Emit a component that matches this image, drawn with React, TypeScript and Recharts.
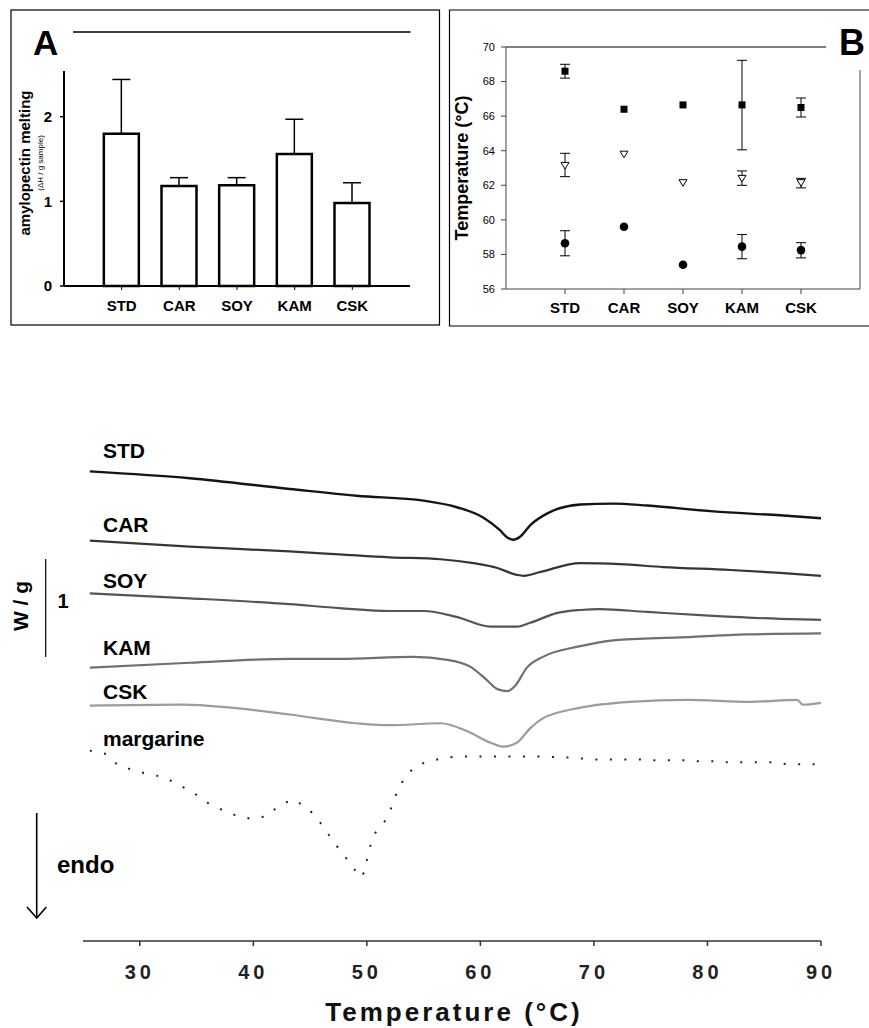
import React from 'react';
import { BarChart, Bar, XAxis, YAxis, ErrorBar, ScatterChart, Scatter, LineChart, Line } from 'recharts';

const FONT = '"Liberation Sans", Arial, Helvetica, sans-serif';

// ---------- shared categories ----------
const categories = ['STD', 'CAR', 'SOY', 'KAM', 'CSK'];
const categoryPositions = [1, 2, 3, 4, 5];

// ---------- Panel A : amylopectin melting (ΔH / g sample) ----------
const amylopectinMelting = [1.8, 1.18, 1.19, 1.56, 0.98];
const amylopectinErrorUp = [0.64, 0.1, 0.09, 0.41, 0.24];
const panelATicks = [0, 1, 2];

// ---------- Panel B : transition temperatures (°C) ----------
const conclusionTemp = [68.6, 66.4, 66.65, 66.65, 66.5];
const conclusionErr: ([number, number] | null)[] = [[0.4, 0.4], null, null, [2.6, 2.58], [0.55, 0.55]];
const peakTemp = [63.15, 63.8, 62.15, 62.4, 62.15];
const peakErr: ([number, number] | null)[] = [[0.65, 0.7], null, null, [0.4, 0.43], [0.3, 0.25]];
const onsetTemp = [58.65, 59.6, 57.4, 58.45, 58.25];
const onsetErr: ([number, number] | null)[] = [[0.73, 0.72], null, null, [0.7, 0.7], [0.45, 0.43]];
const panelBTicks = [56, 58, 60, 62, 64, 66, 68, 70];

// ---------- DSC thermograms : [temperature °C, heat flow W/g (offset)] ----------
const tempTicks = [30, 40, 50, 60, 70, 80, 90];
const stdCurve: [number, number][] = [
  [25.6, 4.81], [34.4, 4.74], [43.2, 4.63], [49.1, 4.56], [55.0, 4.51], [58.0, 4.44], [60.2, 4.34],
  [61.7, 4.21], [62.4, 4.13], [62.9, 4.11], [63.5, 4.14], [64.4, 4.26], [65.9, 4.38], [68.8, 4.47],
  [71.7, 4.48], [74.7, 4.46], [80.5, 4.4], [86.4, 4.36], [90.0, 4.33],
];
const carCurve: [number, number][] = [
  [25.6, 4.1], [34.4, 4.04], [43.2, 3.99], [47.6, 3.96], [52.0, 3.93], [56.5, 3.91], [59.4, 3.87],
  [61.5, 3.82], [63.2, 3.75], [63.8, 3.74], [65.3, 3.78], [68.8, 3.87], [72.3, 3.86], [76.1, 3.83],
  [82.0, 3.8], [86.4, 3.77], [90.0, 3.74],
];
const soyCurve: [number, number][] = [
  [25.6, 3.56], [34.4, 3.51], [43.2, 3.45], [47.6, 3.41], [52.0, 3.38], [55.0, 3.38], [57.9, 3.32],
  [60.9, 3.22], [63.2, 3.22], [64.4, 3.26], [66.8, 3.36], [68.8, 3.39], [70.5, 3.4], [74.7, 3.37],
  [80.5, 3.33], [86.4, 3.3], [90.0, 3.29],
];
const kamCurve: [number, number][] = [
  [25.6, 2.8], [34.4, 2.85], [43.2, 2.89], [47.6, 2.89], [54.1, 2.91], [57.1, 2.88], [59.1, 2.81],
  [60.6, 2.67], [61.5, 2.58], [62.4, 2.56], [63.1, 2.62], [64.1, 2.8], [65.5, 2.91], [68.8, 3.02],
  [71.7, 3.08], [77.6, 3.11], [83.5, 3.14], [90.0, 3.15],
];
const cskCurve: [number, number][] = [
  [25.6, 2.41], [33.8, 2.42], [38.0, 2.39], [43.2, 2.32], [49.1, 2.23], [52.0, 2.21], [56.5, 2.23],
  [58.8, 2.15], [60.9, 2.03], [62.0, 1.99], [63.2, 2.03], [64.4, 2.18], [65.5, 2.28], [68.8, 2.39],
  [73.2, 2.45], [78.2, 2.47], [83.8, 2.45], [87.9, 2.47], [88.4, 2.42], [90.0, 2.44],
];
const margarineCurve: [number, number][] = [
  [25.6, 1.95], [26.9, 1.92], [28.1, 1.8], [29.4, 1.75], [30.7, 1.71], [32.1, 1.68], [33.4, 1.6],
  [34.6, 1.53], [35.9, 1.42], [37.3, 1.34], [38.6, 1.28], [39.9, 1.25], [41.2, 1.28], [42.3, 1.39],
  [43.5, 1.45], [44.7, 1.37], [45.6, 1.26], [46.4, 1.13], [47.1, 1.01], [47.9, 0.89], [48.7, 0.77],
  [49.4, 0.65], [49.9, 0.72], [50.0, 0.83], [50.3, 0.97], [50.6, 1.09], [51.4, 1.19], [52.0, 1.31],
  [52.3, 1.43], [52.8, 1.56], [53.4, 1.69], [54.4, 1.8], [55.8, 1.85], [57.1, 1.88], [58.4, 1.89],
  [64.9, 1.89], [67.6, 1.88], [70.1, 1.86], [74.1, 1.86], [75.3, 1.85], [78.0, 1.85], [79.3, 1.84],
  [80.5, 1.84], [81.9, 1.83], [85.8, 1.83], [87.1, 1.81], [90.0, 1.81],
];

// ---------- derived tables ----------
const barData = categories.map((c, i) => ({
  x: categoryPositions[i],
  name: c,
  v: amylopectinMelting[i],
  err: [0, amylopectinErrorUp[i]],
}));
const makePoints = (vals: number[], errs: ([number, number] | null)[]) =>
  categories.map((c, i) => ({ x: categoryPositions[i], name: c, y: vals[i], err: errs[i] }));
const conclusionData = makePoints(conclusionTemp, conclusionErr);
const peakData = makePoints(peakTemp, peakErr);
const onsetData = makePoints(onsetTemp, onsetErr);
const toXY = (arr: [number, number][]) => arr.map(([t, v]) => ({ t, v }));

const catFormatter = (v: number) => categories[v - 1] ?? '';

const SquareShape = (p: any) => <rect x={p.cx - 3.5} y={p.cy - 3.5} width={7} height={7} fill="#000" />;
const CircleShape = (p: any) => <circle cx={p.cx} cy={p.cy} r={4.3} fill="#000" />;
const TriangleDownShape = (p: any) => (
  <path
    d={`M${p.cx - 4},${p.cy - 3} L${p.cx + 4},${p.cy - 3} L${p.cx},${p.cy + 3.6} Z`}
    fill="#fff"
    stroke="#000"
    strokeWidth={1}
  />
);

const boldTick = { fontSize: 15, fontWeight: 'bold', fill: '#000', fontFamily: FONT };

export default function App() {
  return (
    <div style={{ position: 'absolute', left: 0, top: 0, width: 869, height: 1028, background: '#fff', fontFamily: FONT }}>
      {/* Panel A */}
      <div style={{ position: 'absolute', left: 0, top: 0 }}>
        <BarChart width={445} height={330} data={barData} margin={{ top: 71, right: 35, bottom: 14, left: 4 }}>
          <XAxis
            type="number"
            dataKey="x"
            domain={[0, 6]}
            ticks={categoryPositions}
            interval={0}
            tickFormatter={catFormatter}
            height={30}
            axisLine={{ stroke: '#000', strokeWidth: 2 }}
            tickLine={{ stroke: '#000', strokeWidth: 1 }}
            tickSize={4}
            tickMargin={10}
            tick={boldTick}
          />
          <YAxis
            type="number"
            domain={[0, 2.54]}
            ticks={panelATicks}
            interval={0}
            width={60}
            axisLine={{ stroke: '#000', strokeWidth: 2 }}
            tickLine={{ stroke: '#000', strokeWidth: 1.5 }}
            tickSize={4}
            tickMargin={8}
            tick={boldTick}
          />
          <Bar dataKey="v" barSize={35} fill="#fff" stroke="#000" strokeWidth={2.5} isAnimationActive={false}>
            <ErrorBar dataKey="err" direction="y" width={9} stroke="#000" strokeWidth={1.5} isAnimationActive={false} />
          </Bar>
        </BarChart>
      </div>

      {/* Panel B */}
      <div style={{ position: 'absolute', left: 445, top: 0 }}>
        <ScatterChart width={424} height={330} margin={{ top: 47, right: 9, bottom: 11, left: 1 }}>
          <XAxis
            type="number"
            dataKey="x"
            domain={[0, 6]}
            ticks={categoryPositions}
            interval={0}
            tickFormatter={catFormatter}
            height={30}
            axisLine={{ stroke: '#444', strokeWidth: 1 }}
            tickLine={{ stroke: '#444', strokeWidth: 1 }}
            tickSize={5}
            tickMargin={8}
            tick={boldTick}
          />
          <YAxis
            type="number"
            dataKey="y"
            domain={[56, 70]}
            ticks={panelBTicks}
            interval={0}
            width={60}
            axisLine={{ stroke: '#444', strokeWidth: 1 }}
            tickLine={{ stroke: '#444', strokeWidth: 1 }}
            tickSize={5}
            tickMargin={6}
            tick={{ fontSize: 11, fill: '#000', fontFamily: FONT }}
          />
          <Scatter data={conclusionData} shape={SquareShape} isAnimationActive={false}>
            <ErrorBar dataKey="err" direction="y" width={5} stroke="#000" strokeWidth={1} isAnimationActive={false} />
          </Scatter>
          <Scatter data={peakData} shape={TriangleDownShape} isAnimationActive={false}>
            <ErrorBar dataKey="err" direction="y" width={5} stroke="#000" strokeWidth={1} isAnimationActive={false} />
          </Scatter>
          <Scatter data={onsetData} shape={CircleShape} isAnimationActive={false}>
            <ErrorBar dataKey="err" direction="y" width={5} stroke="#000" strokeWidth={1} isAnimationActive={false} />
          </Scatter>
        </ScatterChart>
      </div>

      {/* DSC thermograms */}
      <div style={{ position: 'absolute', left: 0, top: 380 }}>
        <LineChart width={869} height={648} margin={{ top: 24, right: 48, bottom: 27, left: 83 }}>
          <XAxis
            type="number"
            dataKey="t"
            domain={[25, 90]}
            ticks={tempTicks}
            interval={0}
            allowDataOverflow
            height={60}
            axisLine={{ stroke: '#333', strokeWidth: 1.5 }}
            tickLine={{ stroke: '#333', strokeWidth: 1.5 }}
            tickSize={5}
            tickMargin={19}
            tick={{ fontSize: 20, fontWeight: 'bold', fill: '#222', fontFamily: FONT, letterSpacing: 4 }}
          />
          <YAxis hide type="number" dataKey="v" domain={[0, 5.5]} />
          <Line data={toXY(stdCurve)} dataKey="v" type="monotone" stroke="#141414" strokeWidth={2.4} dot={false} isAnimationActive={false} />
          <Line data={toXY(carCurve)} dataKey="v" type="monotone" stroke="#363636" strokeWidth={2.2} dot={false} isAnimationActive={false} />
          <Line data={toXY(soyCurve)} dataKey="v" type="monotone" stroke="#555" strokeWidth={2.2} dot={false} isAnimationActive={false} />
          <Line data={toXY(kamCurve)} dataKey="v" type="monotone" stroke="#707070" strokeWidth={2.2} dot={false} isAnimationActive={false} />
          <Line data={toXY(cskCurve)} dataKey="v" type="monotone" stroke="#9c9c9c" strokeWidth={2.2} dot={false} isAnimationActive={false} />
          <Line data={toXY(margarineCurve)} dataKey="v" type="linear" stroke="#222" strokeWidth={2} strokeDasharray="2 12.5" dot={false} isAnimationActive={false} />
        </LineChart>
      </div>

      {/* frames, panel letters and annotations */}
      <svg width={869} height={1028} style={{ position: 'absolute', left: 0, top: 0, pointerEvents: 'none' }} fontFamily={FONT}>
        {/* Panel A frame */}
        <rect x={11} y={10} width={428.5} height={315} fill="none" stroke="#000" strokeWidth={1.2} />
        <line x1={73} y1={32} x2={410.5} y2={32} stroke="#000" strokeWidth={1.5} />
        <text x={33} y={55} fontSize={35} fontWeight="bold" fill="#000">A</text>
        <text transform="translate(30,163) rotate(-90)" textAnchor="middle" fontSize={15} fontWeight="bold" fill="#000">amylopectin melting</text>
        <text transform="translate(42.5,163) rotate(-90)" textAnchor="middle" fontSize={8} fill="#000">(ΔH / g sample)</text>

        {/* Panel B frame */}
        <path d="M870,10 H449.5 V326 H870" fill="none" stroke="#000" strokeWidth={1.2} />
        <line x1={506} y1={47} x2={826} y2={47} stroke="#000" strokeWidth={1.2} />
        <line x1={860} y1={70} x2={860} y2={289} stroke="#444" strokeWidth={1} />
        <text x={839} y={55} fontSize={36} fontWeight="bold" fill="#000">B</text>
        <text transform="translate(468,168) rotate(-90)" textAnchor="middle" fontSize={18} fontWeight="bold" fill="#000">Temperature (°C)</text>

        {/* thermogram labels */}
        <text x={103} y={458} fontSize={21} fontWeight="bold" fill="#000">STD</text>
        <text x={103} y={532} fontSize={21} fontWeight="bold" fill="#000">CAR</text>
        <text x={103} y={588} fontSize={21} fontWeight="bold" fill="#000">SOY</text>
        <text x={103} y={655} fontSize={21} fontWeight="bold" fill="#000">KAM</text>
        <text x={103} y={699} fontSize={21} fontWeight="bold" fill="#000">CSK</text>
        <text x={103} y={746} fontSize={21} fontWeight="bold" fill="#000">margarine</text>

        {/* W/g scale bar */}
        <text transform="translate(27.5,606) rotate(-90)" textAnchor="middle" fontSize={21} fontWeight="bold" fill="#000">W / g</text>
        <line x1={45.7} y1={559} x2={45.7} y2={657} stroke="#000" strokeWidth={1.2} />
        <text x={63} y={608} textAnchor="middle" fontSize={20} fontWeight="bold" fill="#000">1</text>

        {/* endo arrow */}
        <line x1={36.7} y1={813} x2={36.7} y2={918} stroke="#000" strokeWidth={1.6} />
        <polyline points="27,907 36.7,918 46.4,907" fill="none" stroke="#000" strokeWidth={1.6} />
        <text x={57} y={873} fontSize={24} fontWeight="bold" fill="#000">endo</text>

        {/* x-axis title */}
        <text x={454} y={1021} textAnchor="middle" fontSize={26} fontWeight="bold" fill="#111" letterSpacing={3}>Temperature (°C)</text>
      </svg>
    </div>
  );
}
